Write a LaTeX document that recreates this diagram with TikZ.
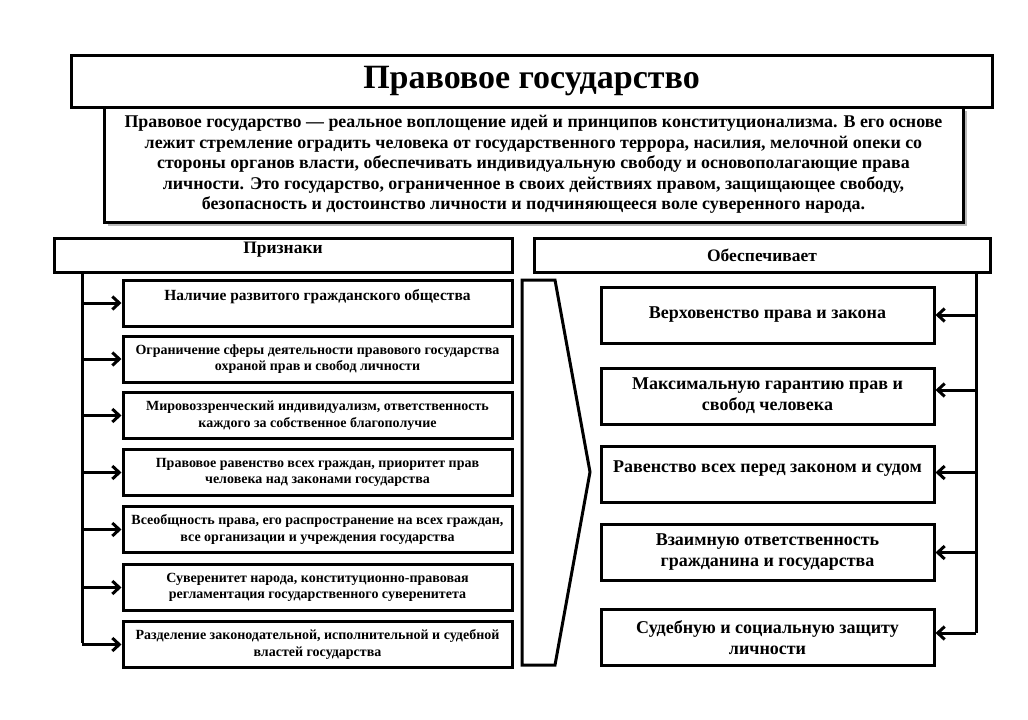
\documentclass[tikz,border=0pt]{standalone}
\usepackage{fontspec}
\setmainfont{Liberation Serif}
\usetikzlibrary{arrows.meta}
\begin{document}
\begin{tikzpicture}[x=1pt,y=-1pt,
  box/.style={draw, line width=3pt, fill=white, font=\bfseries, align=center, inner sep=0pt},
  lbox/.style={box, minimum width=389pt, minimum height=46pt, font=\bfseries\fontsize{14}{16.5}\selectfont},
  rbox/.style={box, minimum width=333pt, minimum height=56pt, font=\bfseries\fontsize{18}{21}\selectfont},
  hbox/.style={box, minimum height=34pt, font=\bfseries\fontsize{17.5}{19}\selectfont},
  trunk/.style={line width=3pt},
  arr/.style={line width=3pt, -{Straight Barb[length=7pt,width=13pt,line width=3pt]}}]
\useasboundingbox (0,0) rectangle (1028,720);
\fill[white] (0,0) rectangle (1028,720);

% paragraph box with shadow
\fill[gray!55] (108,111) rectangle (967,226);
\node[box, minimum width=859pt, minimum height=115pt,
      font=\bfseries\fontsize{17.9}{20.5}\selectfont] (def) at (533.5,164.5)
 {Правовое государство — реальное воплощение идей и принципов конституционализма. В его основе\\
  лежит стремление оградить человека от государственного террора, насилия, мелочной опеки со\\
  стороны органов власти, обеспечивать индивидуальную свободу и основополагающие права\\
  личности. Это государство, ограниченное в своих действиях правом, защищающее свободу,\\
  безопасность и достоинство личности и подчиняющееся воле суверенного народа.};
\node[box, minimum width=921pt, minimum height=52pt,
      font=\bfseries\fontsize{34}{36}\selectfont] (title) at (531.5,81) {Правовое государство};

% headers
\node[hbox, minimum width=458pt] (lh) at (283,255) {Признаки\\[-5pt]\mbox{}};
\node[hbox, minimum width=456pt] (rh) at (762,255) {Обеспечивает};

% left boxes
\node[lbox, font=\bfseries\fontsize{15.5}{16.5}\selectfont] (L1) at (317.5,303) {Наличие развитого гражданского общества\\\mbox{}};
\node[lbox] (L2) at (317.5,359) {Ограничение сферы деятельности правового государства\\охраной прав и свобод личности};
\node[lbox] (L3) at (317.5,415.5) {Мировоззренческий индивидуализм, ответственность\\каждого за собственное благополучие};
\node[lbox] (L4) at (317.5,472.5) {Правовое равенство всех граждан, приоритет прав\\человека над законами государства};
\node[lbox] (L5) at (317.5,529.5) {Всеобщность права, его распространение на всех граждан,\\все организации и учреждения государства};
\node[lbox] (L6) at (317.5,587.5) {Суверенитет народа, конституционно-правовая\\регламентация государственного суверенитета};
\node[lbox] (L7) at (317.5,644.5) {Разделение законодательной, исполнительной и судебной\\властей государства};

% right boxes
\node[rbox] (R1) at (767.5,315) {Верховенство права и закона};
\node[rbox] (R2) at (767.5,396) {Максимальную гарантию прав и\\свобод человека};
\node[rbox] (R3) at (767.5,474.5) {Равенство всех перед законом и судом\\[-6pt]\mbox{}};
\node[rbox] (R4) at (767.5,552.5) {Взаимную ответственность\\гражданина и государства};
\node[rbox] (R5) at (767.5,637.5) {Судебную и социальную защиту\\личности};

% chevron
\draw[line width=3pt, line join=miter] (522,280) -- (555,280) -- (590,472) -- (555,665) -- (522,665) -- cycle;

% left trunk and arrows
\coordinate (lt) at (82,272);
\coordinate (lb) at (82,643);
\draw[trunk] (lt) -- (lb);
\foreach \n in {L1,L2,L3,L4,L5,L6,L7}
  \draw[arr] (\n.west -| lt) -- (\n.west);

% right trunk and arrows
\coordinate (rt) at (976,272);
\coordinate (rb) at (976,633);
\draw[trunk] (rt) -- (rb);
\draw[arr] (R1.east -| rt) -- (R1.east);
\draw[arr] ([yshift=6pt]R2.east -| rt) -- ([yshift=6pt]R2.east);
\draw[arr] ([yshift=2pt]R3.east -| rt) -- ([yshift=2pt]R3.east);
\draw[arr] (R4.east -| rt) -- (R4.east);
\coordinate (r5a) at (R5.east |- rb);
\draw[arr] (rb) -- (r5a);
\end{tikzpicture}
\end{document}
